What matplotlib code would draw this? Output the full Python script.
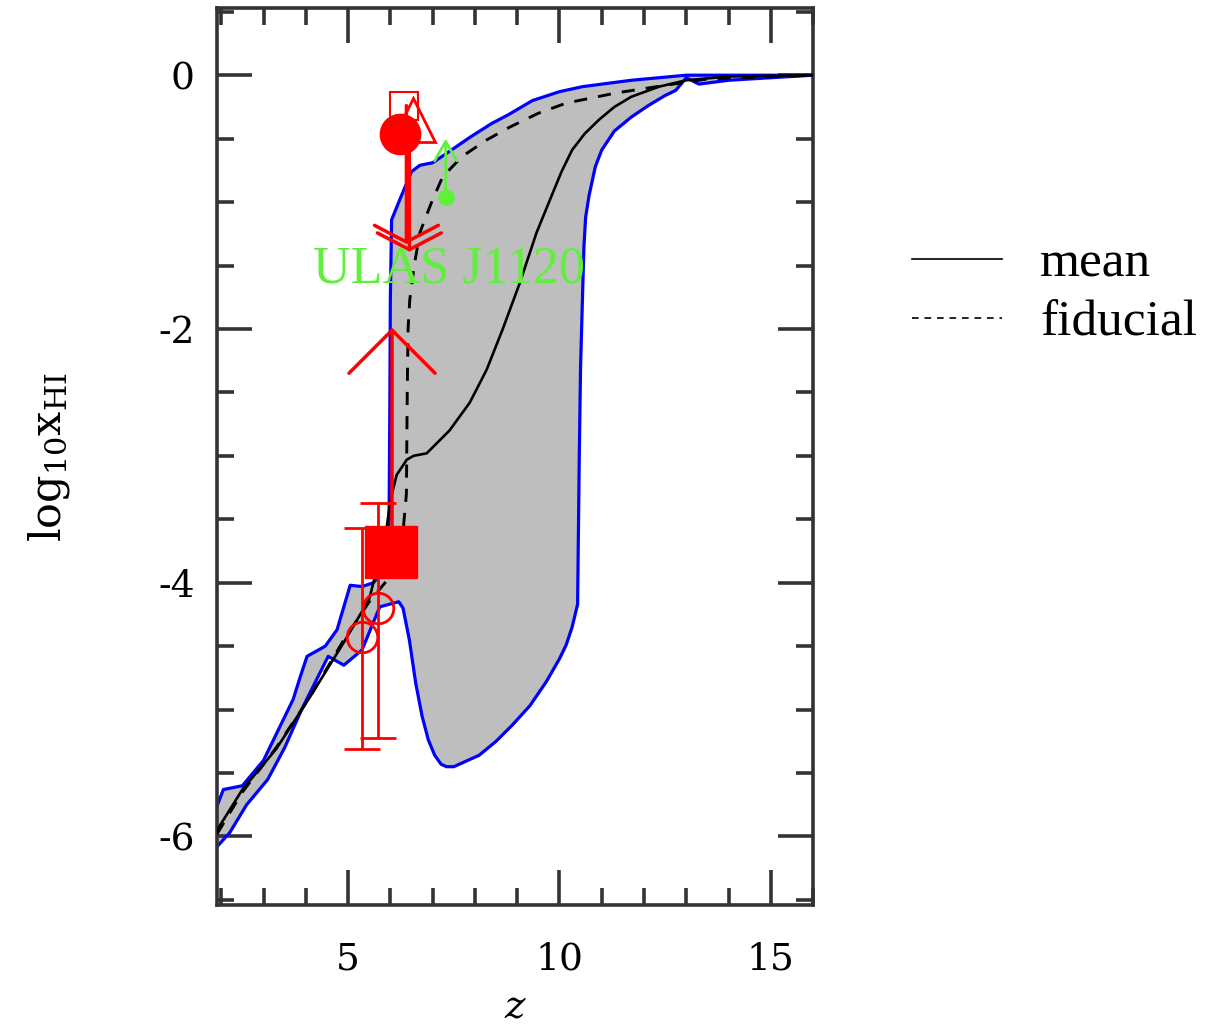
# -*- coding: utf-8 -*-
# neutral fraction vs redshift: band of models, mean and fiducial history, data points

import numpy as np
import matplotlib
matplotlib.use("Agg")
import matplotlib.pyplot as plt
from matplotlib.lines import Line2D

# band of models: upper (left/top) edge
z_upper = [1.9, 2.05, 2.5, 3.0, 3.7, 3.87, 4.03, 4.46, 4.74, 5.05, 5.33, 5.6, 5.85,
           5.97, 5.99, 6.0, 6.03, 6.2, 6.35, 6.5, 6.7, 7.0, 7.4, 7.88, 8.4, 8.8,
           9.36, 10.0, 10.55, 11.7, 13.0, 14.0, 16.0]
x_upper = [-5.76, -5.63, -5.6, -5.4, -4.92, -4.74, -4.58, -4.5, -4.37, -4.02, -4.03,
           -4.0, -3.9, -3.5, -2.5, -1.77, -1.14, -1.0, -0.88, -0.76, -0.71, -0.69,
           -0.6, -0.49, -0.38, -0.31, -0.2, -0.13, -0.09, -0.04, 0.0, 0.0, 0.0]

# band of models: lower (right/bottom) edge
z_lower = [1.9, 2.2, 2.6, 3.1, 3.5, 3.9, 4.2, 4.53, 4.9, 5.33, 5.75, 6.2, 6.3, 6.45,
           6.6, 6.75, 6.9, 7.05, 7.2, 7.33, 7.5, 7.7, 8.1, 8.5, 8.89, 9.3, 9.69,
           10.0, 10.16, 10.3, 10.43, 10.47, 10.5, 10.55, 10.58, 10.62, 10.7, 10.85,
           11.0, 11.3, 11.7, 12.1, 12.5, 12.75, 13.0, 13.3, 14.0, 16.0]
x_lower = [-6.08, -5.97, -5.75, -5.55, -5.3, -5.0, -4.8, -4.58, -4.65, -4.53, -4.19,
           -4.15, -4.2, -4.45, -4.79, -5.05, -5.24, -5.36, -5.43, -5.45, -5.45,
           -5.42, -5.36, -5.25, -5.12, -4.97, -4.78, -4.6, -4.49, -4.35, -4.17,
           -3.0, -2.3, -1.7, -1.35, -1.12, -0.95, -0.72, -0.59, -0.44, -0.33, -0.24,
           -0.16, -0.12, -0.02, -0.07, -0.04, 0.0]

# mean history
z_mean = [1.9, 2.5, 3.3, 4.1, 4.9, 5.5, 5.9, 6.0, 6.15, 6.39, 6.55, 6.86, 7.4, 7.88,
          8.28, 8.66, 9.06, 9.46, 9.84, 10.05, 10.3, 10.6, 10.94, 11.3, 11.7,
          12.36, 13.0, 14.0, 16.0]
x_mean = [-5.95, -5.63, -5.31, -4.9, -4.47, -4.13, -3.6, -3.35, -3.15, -3.03, -3.0,
          -2.98, -2.8, -2.58, -2.32, -2.0, -1.64, -1.24, -0.93, -0.76, -0.59, -0.46,
          -0.35, -0.25, -0.17, -0.09, -0.04, -0.01, 0.0]

# fiducial history
z_fid = [1.9, 2.5, 3.3, 4.1, 4.9, 5.5, 6.0, 6.3, 6.38, 6.4, 6.42, 6.46, 6.56, 6.7,
         7.0, 7.24, 7.7, 8.28, 8.82, 9.5, 10.16, 11.34, 12.5, 13.5, 16.0]
x_fid = [-5.98, -5.65, -5.3, -4.9, -4.45, -4.15, -3.95, -3.6, -3.3, -2.5, -2.0,
         -1.77, -1.51, -1.24, -0.98, -0.8, -0.64, -0.51, -0.41, -0.3, -0.22, -0.14,
         -0.08, -0.03, 0.0]

# red measurements
z_open_circ = [5.34, 5.7]
x_open_circ = [-4.43, -4.2]
err_lo_open_circ = [0.88, 1.02]
err_hi_open_circ = [0.86, 0.83]

z_filled_circ, x_filled_circ = 6.23, -0.46
z_open_tri, x_open_tri = 6.53, -0.35
z_open_sq, x_open_sq = 6.32, -0.24
z_filled_sq, x_filled_sq = 6.01, -3.76

# lower limit (from filled square) and upper limits (near z~6.4)
z_lolim, x_lolim_from, x_lolim_to = 6.04, -3.76, -1.99
z_uplim = [6.38, 6.45]
x_uplim_from = [-0.24, -0.35]
x_uplim_to = [-1.33, -1.39]

# green quasar point (lower limit)
z_qso, x_qso, x_qso_to = 7.31, -0.96, -0.5
qso_label = "ULAS J1120"

# tick marks
x_major = [5, 10, 15]
y_major = [0, -2, -4, -6]

red = "#ff0000"
blue = "#0000ff"
green = "#60f03c"
grey = "#bebebe"
axcol = "#333333"

plt.rcParams["mathtext.fontset"] = "dejavuserif"

fig = plt.figure(figsize=(12.09, 10.33), dpi=100)
ax = fig.add_axes([0.1795, 0.1239, 0.4930, 0.8684])

# shaded band with blue outline
ax.fill(np.concatenate([z_upper, z_lower[::-1]]),
        np.concatenate([x_upper, x_lower[::-1]]),
        color=grey, lw=0, zorder=1)
ax.plot(z_upper, x_upper, color=blue, lw=2.3, zorder=2)
ax.plot(z_lower, x_lower, color=blue, lw=2.3, zorder=2)

# model lines
ax.plot(z_mean, x_mean, color="black", lw=1.9, zorder=3)
ax.plot(z_fid, x_fid, color="black", lw=2.1, ls=(0, (4.5, 3.8)), zorder=3)

# red error bars and markers
ax.errorbar(z_open_circ, x_open_circ,
            yerr=[err_lo_open_circ, err_hi_open_circ],
            fmt="o", ms=22, mfc="none", mec=red, mew=2, ecolor=red,
            elinewidth=2, capsize=13, capthick=2.5, zorder=5)

ax.annotate("", xy=(z_lolim, x_lolim_to), xytext=(z_lolim, x_lolim_from),
            arrowprops=dict(arrowstyle="->,head_length=3.1,head_width=3.1",
                            color=red, lw=2.5, shrinkA=0, shrinkB=0),
            zorder=5)
for zz, y0, y1 in zip(z_uplim, x_uplim_from, x_uplim_to):
    ax.annotate("", xy=(zz, y1), xytext=(zz, y0),
                arrowprops=dict(arrowstyle="->,head_length=1.2,head_width=2.3",
                                color=red, lw=2.5, shrinkA=0, shrinkB=0),
                zorder=5)

ax.plot(z_filled_sq, x_filled_sq, "s", color=red, ms=37, zorder=6)
ax.plot(z_open_sq, x_open_sq, "s", ms=20, mfc="none", mec=red, mew=1.5, zorder=6)
ax.plot(z_open_tri, x_open_tri, "^", ms=32, mfc="none", mec=red, mew=2, zorder=6)
ax.plot(z_filled_circ, x_filled_circ, "o", color=red, ms=29, zorder=7)

# green quasar limit
ax.annotate("", xy=(z_qso, x_qso_to), xytext=(z_qso, x_qso),
            arrowprops=dict(arrowstyle="->,head_length=1.4,head_width=0.8",
                            color=green, lw=2, shrinkA=0, shrinkB=0),
            zorder=8)
ax.plot(z_qso, x_qso, "o", color=green, ms=11, zorder=8)
ax.text(4.17, -1.63, qso_label, color=green, fontsize=37.5,
        family="Liberation Serif", ha="left", va="baseline", zorder=9)

# axes
ax.set_xlim(1.9, 16.0)
ax.set_ylim(-6.54, 0.53)
ax.set_xticks(x_major)
ax.set_xticks(np.arange(2, 17, 1), minor=True)
ax.set_yticks(y_major)
ax.set_yticks(np.arange(-6.5, 0.51, 0.5), minor=True)
ax.set_xticklabels([str(v) for v in x_major])
ax.set_yticklabels([str(v) for v in y_major])

for s in ax.spines.values():
    s.set_color(axcol)
    s.set_linewidth(2.6)
ax.tick_params(which="both", direction="in", top=True, right=True,
               color=axcol, width=2.6)
ax.tick_params(which="major", length=25)
ax.tick_params(which="minor", length=12)
ax.tick_params(axis="x", which="major", pad=26, labelsize=27)
ax.tick_params(axis="y", which="major", pad=16, labelsize=27)
for lab in ax.get_xticklabels() + ax.get_yticklabels():
    lab.set_family("DejaVu Serif")

ax.set_xlabel("z", fontsize=28, family="DejaVu Serif", style="italic",
              labelpad=9)
ax.set_ylabel(r"$\mathrm{log}_{10}\mathrm{x}_{\mathrm{HI}}$", fontsize=31,
              labelpad=62)

# legend to the right of the panel
handles = [Line2D([], [], color="black", lw=1.2),
           Line2D([], [], color="black", lw=1.2, ls=(0, (4, 3.5)))]
fig.legend(handles, ["mean", "fiducial"], loc="upper left",
           bbox_to_anchor=(0.754, 0.767), frameon=False,
           prop={"family": "Liberation Serif", "size": 37},
           handlelength=1.75, handletextpad=0.75, labelspacing=0.24,
           borderpad=0, borderaxespad=0)

plt.savefig("out.png", dpi=100)
